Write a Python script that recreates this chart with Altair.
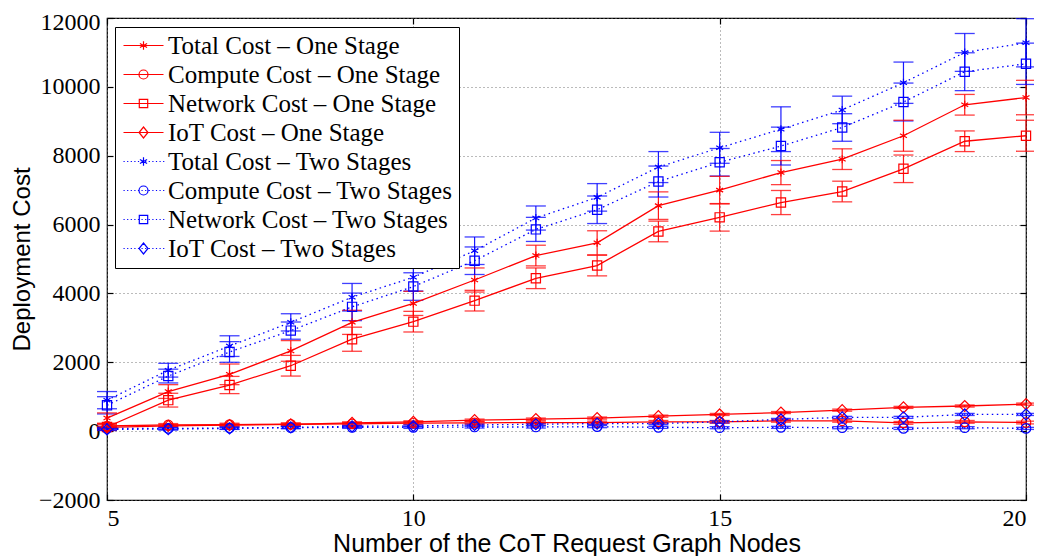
import altair as alt
import pandas as pd

nodes = list(range(5, 21))

series_names = [
    "Total Cost – One Stage",
    "Compute Cost – One Stage",
    "Network Cost – One Stage",
    "IoT Cost – One Stage",
    "Total Cost – Two Stages",
    "Compute Cost – Two Stages",
    "Network Cost – Two Stages",
    "IoT Cost – Two Stages",
]
series_kind = ["Total", "Compute", "Network", "IoT", "Total", "Compute", "Network", "IoT"]
series_stage = ["One", "One", "One", "One", "Two", "Two", "Two", "Two"]

total_one = [380, 1150, 1650, 2330, 3160, 3710, 4390, 5100, 5470, 6550, 7000, 7510, 7900, 8580, 9480, 9690]
compute_one = [150, 180, 190, 200, 210, 230, 240, 250, 250, 270, 270, 300, 300, 240, 270, 250]
network_one = [120, 900, 1340, 1900, 2670, 3180, 3790, 4440, 4810, 5800, 6210, 6640, 6960, 7620, 8420, 8580]
iot_one = [110, 155, 175, 195, 240, 270, 320, 350, 380, 435, 485, 540, 610, 690, 730, 785]
total_two = [900, 1770, 2470, 3160, 3890, 4470, 5240, 6190, 6790, 7670, 8230, 8770, 9330, 10120, 11000, 11280]
compute_two = [80, 80, 90, 100, 110, 110, 120, 120, 130, 110, 100, 110, 100, 80, 100, 80]
network_two = [750, 1600, 2300, 2920, 3610, 4200, 4950, 5860, 6430, 7250, 7810, 8280, 8820, 9560, 10440, 10670]
iot_two = [50, 60, 80, 110, 140, 150, 180, 200, 220, 220, 270, 340, 400, 400, 485, 485]

total_one_err = [150, 200, 300, 300, 350, 350, 350, 300, 350, 400, 400, 350, 300, 450, 300, 500]
compute_one_err = [40, 40, 40, 40, 40, 40, 40, 40, 40, 40, 40, 40, 40, 40, 40, 40]
network_one_err = [100, 200, 250, 300, 350, 300, 300, 300, 300, 300, 400, 350, 300, 400, 300, 450]
iot_one_err = [30, 30, 30, 30, 30, 30, 30, 30, 30, 30, 30, 30, 30, 30, 30, 30]
total_two_err = [250, 200, 300, 250, 400, 400, 400, 350, 400, 450, 450, 650, 400, 600, 550, 700]
compute_two_err = [30, 30, 30, 30, 30, 30, 30, 30, 30, 30, 30, 30, 30, 30, 30, 30]
network_two_err = [250, 200, 300, 250, 400, 400, 400, 350, 400, 450, 400, 550, 400, 550, 550, 600]
iot_two_err = [30, 30, 30, 30, 30, 30, 30, 30, 30, 30, 30, 30, 30, 30, 30, 30]

values = [total_one, compute_one, network_one, iot_one, total_two, compute_two, network_two, iot_two]
errors = [total_one_err, compute_one_err, network_one_err, iot_one_err,
          total_two_err, compute_two_err, network_two_err, iot_two_err]

x_ticks = [5, 10, 15, 20]
y_ticks = list(range(-2000, 12001, 2000))

rows = []
for name, kind, stage, vals, errs in zip(series_names, series_kind, series_stage, values, errors):
    for n, v, e in zip(nodes, vals, errs):
        rows.append({"nodes": n, "cost": v, "lo": v - e, "hi": v + e,
                     "series": name, "kind": kind, "stage": stage})
df = pd.DataFrame(rows)

RED = "#ff0000"
BLUE = "#0000ff"
colors = [RED] * 4 + [BLUE] * 4

SERIF = "Liberation Serif"
SANS = "Liberation Sans"

ast = "M0,-1L0,1M-0.87,-0.5L0.87,0.5M-0.87,0.5L0.87,-0.5"


def circ(r):
    return f"M{r},0A{r},{r},0,1,1,{-r},0A{r},{r},0,1,1,{r},0"


mk_leg = {
    "Total": "M0,-0.42L0,0.42M-0.36,-0.21L0.36,0.21M-0.36,0.21L0.36,-0.21",
    "Compute": circ(0.45),
    "Network": "M-0.42,-0.42H0.42V0.42H-0.42Z",
    "IoT": "M0,-0.55L0.45,0L0,0.55L-0.45,0Z",
}
solid = "M-2,0L2,0"
dots = "".join(f"M{-2 + i * 0.36:.2f},0h0.12" for i in range(12))
leg_paths = []
for kind, stage in zip(series_kind, series_stage):
    leg_paths.append((solid if stage == "One" else dots) + mk_leg[kind])

x_scale = alt.Scale(domain=[5, 20], nice=False, zero=False)
y_scale = alt.Scale(domain=[-2000, 12000], nice=False, zero=False)
color_scale = alt.Scale(domain=series_names, range=colors)

leg = alt.Legend(title=None, orient="none", legendX=8, legendY=9, fillColor="white",
                 strokeColor="black", padding=6, labelFont=SERIF, labelFontSize=25,
                 labelColor="black", symbolSize=400, symbolStrokeWidth=1.2, symbolOffset=10,
                 symbolFillColor="transparent",
                 labelOffset=12, rowPadding=3, labelLimit=500)

base = alt.Chart(df)
noaxis_x = alt.X("nodes:Q", scale=x_scale, axis=None)
noaxis_y = alt.Y("cost:Q", scale=y_scale, axis=None)
col = alt.Color("series:N", scale=color_scale, legend=leg)

grid_common = dict(gridColor="#777777", gridDash=[1, 3], gridWidth=1, gridOpacity=1)
lab_common = dict(labelFont=SERIF, labelFontSize=24, labelColor="black",
                  titleFont=SANS, titleFontWeight="normal", titleColor="black")

legend_layer = base.transform_filter("false").mark_point(filled=False, opacity=1, strokeWidth=1.2).encode(
    x=noaxis_x, y=noaxis_y,
    color=col,
    shape=alt.Shape("series:N", scale=alt.Scale(domain=series_names, range=leg_paths), legend=leg),
)

err_rule = base.mark_rule(strokeWidth=1.2, opacity=0.9).encode(
    x=alt.X("nodes:Q", scale=x_scale,
            axis=alt.Axis(orient="bottom", values=x_ticks, ticks=False, domain=False, format="d",
                          grid=True, labelPadding=6, title="Number of the CoT Request Graph Nodes",
                          titleFontSize=25,
                          titleX=459.5, titleY=43, titleAlign="center", titleBaseline="middle",
                          **grid_common, **lab_common)),
    y=alt.Y("lo:Q", scale=y_scale,
            axis=alt.Axis(orient="left", values=y_ticks, ticks=False, format="d",
                          domain=False, grid=True, labelPadding=7, title="Deployment Cost",
                          labelOffset={"condition": {"test": "datum.value == 12000", "value": 4}, "value": 0},
                          titleFontSize=24,
                          titleX=-85, titleY=241, titleAngle=-90, titleAlign="center",
                          titleBaseline="middle", **grid_common, **lab_common)),
    y2="hi:Q",
    color=col,
)

tick_common = dict(labels=False, domain=False, grid=False, ticks=True, tickSize=6, offset=-6,
                   title=None, tickColor="black", tickWidth=1.2)
cap_lo = base.mark_rule(xOffset=-10, x2Offset=10, strokeWidth=1.3, opacity=0.75).encode(
    x=alt.X("nodes:Q", scale=x_scale, axis=alt.Axis(orient="bottom", values=x_ticks, **tick_common)),
    x2="nodes:Q",
    y=alt.Y("lo:Q", scale=y_scale, axis=alt.Axis(orient="left", values=y_ticks, **tick_common)),
    color=col,
)
cap_hi = base.mark_rule(xOffset=-10, x2Offset=10, strokeWidth=1.3, opacity=0.75).encode(
    x=alt.X("nodes:Q", scale=x_scale, axis=alt.Axis(orient="top", values=x_ticks, **tick_common)),
    x2="nodes:Q",
    y=alt.Y("hi:Q", scale=y_scale, axis=alt.Axis(orient="right", values=y_ticks, **tick_common)),
    color=col,
)

line_one = base.transform_filter(alt.datum.stage == "One").mark_line(strokeWidth=1.3).encode(
    x=noaxis_x, y=noaxis_y, color=col, detail="series:N")
line_two = base.transform_filter(alt.datum.stage == "Two").mark_line(
    strokeWidth=1.3, strokeDash=[1.5, 3.5]).encode(
    x=noaxis_x, y=noaxis_y, color=col, detail="series:N")

marker_shapes = {"Total": (ast, 64), "Compute": ("circle", 90), "Network": ("square", 85), "IoT": ("diamond", 120)}
point_layers = []
for kind, (shape, size) in marker_shapes.items():
    point_layers.append(
        base.transform_filter(alt.datum.kind == kind).mark_point(
            shape=shape, size=size, filled=False, strokeWidth=1.2, opacity=1).encode(
            x=noaxis_x, y=noaxis_y, color=col)
    )

chart = alt.layer(legend_layer, err_rule, cap_lo, cap_hi, line_one, line_two, *point_layers).resolve_axis(
    x="independent", y="independent"
).properties(
    width=919, height=482,
    autosize=alt.AutoSizeParams(type="none"),
    padding={"left": 99, "top": 10, "right": 8, "bottom": 56},
    background="white",
).configure_view(stroke="black", strokeWidth=1.2)

chart.save("out.html", embed_options={"renderer": "svg", "actions": False})
